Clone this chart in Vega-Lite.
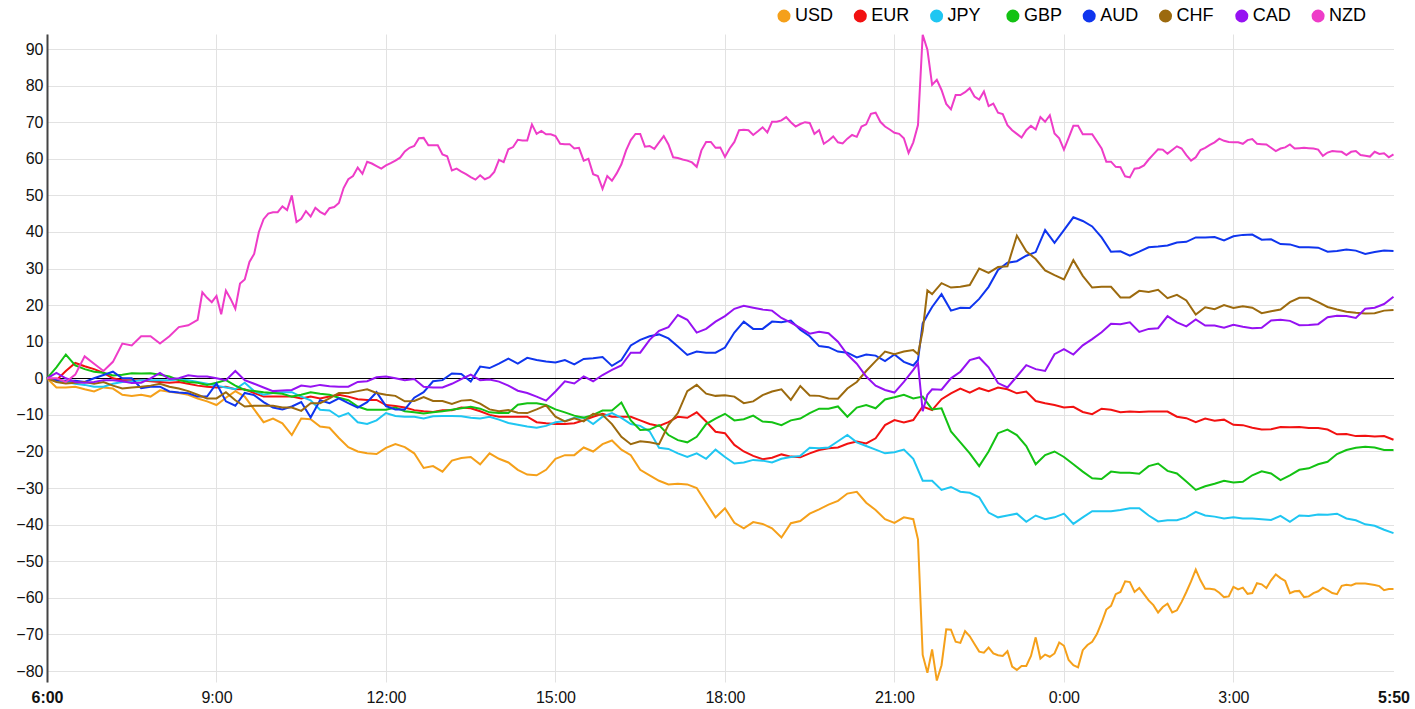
{
"$schema":"https://vega.github.io/schema/vega-lite/v6.json",
"width":1346.5,"height":648,
"autosize":{"type":"none"},
"padding":{"left":47,"top":34,"right":21.5,"bottom":27},
"background":"white",
"config":{"view":{"stroke":null},"font":"Liberation Sans"},
"data":{"format":{"parse":{"t":"date:'%d %H:%M'"}},"values":[
{"t":"01 06:00","USD":0,"EUR":0,"JPY":0,"GBP":0,"AUD":0,"CHF":0,"CAD":0,"NZD":0},
{"t":"01 06:10","USD":-2.5,"EUR":-0.5,"JPY":-0.8,"GBP":3,"AUD":-0.5,"CHF":-1,"CAD":1.5,"NZD":0},
{"t":"01 06:20","USD":-2.5,"EUR":2,"JPY":-1,"GBP":6.5,"AUD":-0.7,"CHF":-1.4,"CAD":0,"NZD":-1},
{"t":"01 06:30","USD":-2.3,"EUR":4.2,"JPY":-1.5,"GBP":3.5,"AUD":-0.7,"CHF":-1.2,"CAD":-1,"NZD":1},
{"t":"01 06:40","USD":-3,"EUR":3.3,"JPY":-1.8,"GBP":2.5,"AUD":-1,"CHF":-1,"CAD":-1.2,"NZD":6},
{"t":"01 06:50","USD":-3.6,"EUR":2.5,"JPY":-2.3,"GBP":1.8,"AUD":0,"CHF":-1.5,"CAD":-1,"NZD":4},
{"t":"01 07:00","USD":-2.5,"EUR":1.5,"JPY":-2.3,"GBP":1.5,"AUD":0.9,"CHF":-1,"CAD":-0.5,"NZD":2},
{"t":"01 07:10","USD":-2.8,"EUR":0,"JPY":-1.5,"GBP":0.8,"AUD":1.8,"CHF":-2,"CAD":-0.5,"NZD":4.5},
{"t":"01 07:20","USD":-4.5,"EUR":-0.5,"JPY":-1,"GBP":1,"AUD":0,"CHF":-2.8,"CAD":-0.8,"NZD":9.5},
{"t":"01 07:30","USD":-4.8,"EUR":-0.5,"JPY":-0.8,"GBP":1.4,"AUD":0,"CHF":-2.5,"CAD":-1.3,"NZD":9},
{"t":"01 07:40","USD":-4.5,"EUR":-0.5,"JPY":-0.5,"GBP":1.3,"AUD":-2.7,"CHF":-2.3,"CAD":-1.2,"NZD":11.5},
{"t":"01 07:50","USD":-5,"EUR":-0.8,"JPY":-0.5,"GBP":1.4,"AUD":-2.3,"CHF":-2,"CAD":0,"NZD":11.5},
{"t":"01 08:00","USD":-3.3,"EUR":-1,"JPY":-0.5,"GBP":1,"AUD":-2.3,"CHF":-1.5,"CAD":1.5,"NZD":9.5},
{"t":"01 08:10","USD":-3.7,"EUR":-1.2,"JPY":-0.5,"GBP":0.5,"AUD":-3.6,"CHF":-2.3,"CAD":-0.2,"NZD":11.5},
{"t":"01 08:20","USD":-4,"EUR":-1,"JPY":-0.3,"GBP":-0.5,"AUD":-3.9,"CHF":-2.8,"CAD":0,"NZD":14},
{"t":"01 08:30","USD":-4.5,"EUR":-1.5,"JPY":-0.5,"GBP":-1,"AUD":-4.1,"CHF":-3.5,"CAD":0.8,"NZD":14.5},
{"t":"01 08:40","USD":-5.5,"EUR":-2,"JPY":-1,"GBP":-1.2,"AUD":-5,"CHF":-4.5,"CAD":0.5,"NZD":16},
{"t":"01 08:45","NZD":23.5},
{"t":"01 08:50","USD":-6.3,"EUR":-2.3,"JPY":-1.5,"GBP":-1.8,"AUD":-5,"CHF":-5.5,"CAD":0.5,"NZD":22},
{"t":"01 08:55","NZD":20.8},
{"t":"01 09:00","USD":-7.3,"EUR":-2.5,"JPY":-2,"GBP":-1.2,"AUD":-1.4,"CHF":-5.5,"CAD":0,"NZD":22.5},
{"t":"01 09:05","NZD":17.5},
{"t":"01 09:10","USD":-5.3,"EUR":-2.3,"JPY":-2.5,"GBP":-0.5,"AUD":-6.3,"CHF":-3.8,"CAD":-0.5,"NZD":24},
{"t":"01 09:15","NZD":21.7},
{"t":"01 09:20","USD":-3.5,"EUR":-3,"JPY":-3,"GBP":-2,"AUD":-7.5,"CHF":-6,"CAD":2,"NZD":19},
{"t":"01 09:25","NZD":25.9},
{"t":"01 09:30","USD":-5,"EUR":-3,"JPY":-1.2,"GBP":-3.2,"AUD":-4,"CHF":-7.7,"CAD":-0.5,"NZD":27},
{"t":"01 09:35","NZD":31.8},
{"t":"01 09:40","USD":-8.5,"EUR":-4,"JPY":-3.5,"GBP":-3.5,"AUD":-4.6,"CHF":-7.5,"CAD":-1.5,"NZD":34},
{"t":"01 09:45","NZD":40},
{"t":"01 09:50","USD":-12,"EUR":-5,"JPY":-4.5,"GBP":-3.8,"AUD":-6.5,"CHF":-7.5,"CAD":-2.5,"NZD":43.5},
{"t":"01 09:55","NZD":45},
{"t":"01 10:00","USD":-11,"EUR":-5,"JPY":-4,"GBP":-4,"AUD":-8,"CHF":-7.5,"CAD":-3.5,"NZD":45.4},
{"t":"01 10:05","NZD":45.4},
{"t":"01 10:10","USD":-12.3,"EUR":-5,"JPY":-3.8,"GBP":-4.2,"AUD":-8.5,"CHF":-8,"CAD":-3.3,"NZD":47},
{"t":"01 10:15","NZD":46},
{"t":"01 10:20","USD":-15.5,"EUR":-5,"JPY":-3.8,"GBP":-5,"AUD":-7.7,"CHF":-8,"CAD":-3.2,"NZD":50},
{"t":"01 10:25","NZD":42.7},
{"t":"01 10:30","USD":-11,"EUR":-5.5,"JPY":-5,"GBP":-4.5,"AUD":-6.5,"CHF":-8.9,"CAD":-2,"NZD":43.6},
{"t":"01 10:35","NZD":45.7},
{"t":"01 10:40","USD":-11.2,"EUR":-5,"JPY":-6,"GBP":-3.8,"AUD":-10.7,"CHF":-6.8,"CAD":-2.3,"NZD":44.2},
{"t":"01 10:45","NZD":46.6},
{"t":"01 10:50","USD":-13.2,"EUR":-5.5,"JPY":-8.6,"GBP":-4.2,"AUD":-6,"CHF":-6.8,"CAD":-1.8,"NZD":45.5},
{"t":"01 10:55","NZD":44.8},
{"t":"01 11:00","USD":-13.5,"EUR":-5,"JPY":-8.8,"GBP":-4.5,"AUD":-6.8,"CHF":-5.5,"CAD":-2.2,"NZD":46.5},
{"t":"01 11:05","NZD":46.8},
{"t":"01 11:10","USD":-16.3,"EUR":-4.5,"JPY":-10.5,"GBP":-5.3,"AUD":-5.5,"CHF":-4,"CAD":-2.3,"NZD":47.9},
{"t":"01 11:15","NZD":52},
{"t":"01 11:20","USD":-18.8,"EUR":-5,"JPY":-9.5,"GBP":-6,"AUD":-6.8,"CHF":-4,"CAD":-2.3,"NZD":54.4},
{"t":"01 11:25","NZD":55.3},
{"t":"01 11:30","USD":-20,"EUR":-5.7,"JPY":-12,"GBP":-7.7,"AUD":-8,"CHF":-3.5,"CAD":-1,"NZD":57.6},
{"t":"01 11:35","NZD":55.9},
{"t":"01 11:40","USD":-20.5,"EUR":-5.9,"JPY":-12.5,"GBP":-8.6,"AUD":-6.5,"CHF":-3,"CAD":-0.8,"NZD":59.2},
{"t":"01 11:45","NZD":58.7},
{"t":"01 11:50","USD":-20.7,"EUR":-5.9,"JPY":-11.5,"GBP":-8.6,"AUD":-3.8,"CHF":-4,"CAD":0.3,"NZD":58},
{"t":"01 11:55","NZD":57.3},
{"t":"01 12:00","USD":-19,"EUR":-7.3,"JPY":-9.5,"GBP":-8.6,"AUD":-7.6,"CHF":-4.5,"CAD":0.5,"NZD":58.2},
{"t":"01 12:05","NZD":58.8},
{"t":"01 12:10","USD":-18,"EUR":-7.6,"JPY":-10.3,"GBP":-8,"AUD":-8.5,"CHF":-4.8,"CAD":0,"NZD":59.5},
{"t":"01 12:15","NZD":60.3},
{"t":"01 12:20","USD":-18.8,"EUR":-8,"JPY":-10.5,"GBP":-9,"AUD":-8.5,"CHF":-6.3,"CAD":-0.5,"NZD":62},
{"t":"01 12:25","NZD":63},
{"t":"01 12:30","USD":-20.5,"EUR":-8.7,"JPY":-10.5,"GBP":-9.3,"AUD":-5.3,"CHF":-6.2,"CAD":-0.2,"NZD":63.5},
{"t":"01 12:35","NZD":65.6},
{"t":"01 12:40","USD":-24.5,"EUR":-9,"JPY":-11,"GBP":-9.6,"AUD":-3.8,"CHF":-5.1,"CAD":-2.3,"NZD":65.7},
{"t":"01 12:45","NZD":63.7},
{"t":"01 12:50","USD":-24,"EUR":-9.2,"JPY":-10.4,"GBP":-9.3,"AUD":-0.8,"CHF":-6.2,"CAD":-2.5,"NZD":63.7},
{"t":"01 12:55","NZD":63.7},
{"t":"01 13:00","USD":-25.5,"EUR":-8.7,"JPY":-10.3,"GBP":-9,"AUD":-0.5,"CHF":-6.2,"CAD":-2.5,"NZD":61.2},
{"t":"01 13:05","NZD":60.7},
{"t":"01 13:10","USD":-22.5,"EUR":-8.7,"JPY":-10.3,"GBP":-8.6,"AUD":1.3,"CHF":-7,"CAD":-1.5,"NZD":56.8},
{"t":"01 13:15","NZD":57.3},
{"t":"01 13:20","USD":-21.8,"EUR":-8,"JPY":-10.4,"GBP":-8.2,"AUD":1.2,"CHF":-6.1,"CAD":-0.2,"NZD":56.5},
{"t":"01 13:25","NZD":55.8},
{"t":"01 13:30","USD":-21.5,"EUR":-8.2,"JPY":-10.8,"GBP":-7.8,"AUD":-0.9,"CHF":-5.9,"CAD":1,"NZD":55},
{"t":"01 13:35","NZD":54.3},
{"t":"01 13:40","USD":-23.5,"EUR":-9,"JPY":-11,"GBP":-8.3,"AUD":3.2,"CHF":-6.9,"CAD":-0.5,"NZD":55.5},
{"t":"01 13:45","NZD":54.4},
{"t":"01 13:50","USD":-20.5,"EUR":-10,"JPY":-10.5,"GBP":-9.3,"AUD":2.8,"CHF":-8.5,"CAD":-0.3,"NZD":55},
{"t":"01 13:55","NZD":56.4},
{"t":"01 14:00","USD":-22,"EUR":-10.5,"JPY":-11.3,"GBP":-9.5,"AUD":4,"CHF":-9,"CAD":-0.9,"NZD":59.7},
{"t":"01 14:05","NZD":59.1},
{"t":"01 14:10","USD":-23,"EUR":-10.5,"JPY":-12.2,"GBP":-9.5,"AUD":5.4,"CHF":-8.7,"CAD":-2,"NZD":62.6},
{"t":"01 14:15","NZD":63.2},
{"t":"01 14:20","USD":-25,"EUR":-10.5,"JPY":-12.7,"GBP":-7.2,"AUD":4,"CHF":-9.4,"CAD":-3.4,"NZD":65.2},
{"t":"01 14:25","NZD":65},
{"t":"01 14:30","USD":-26.3,"EUR":-10.5,"JPY":-13.2,"GBP":-6.8,"AUD":5.6,"CHF":-9.5,"CAD":-4,"NZD":65},
{"t":"01 14:35","NZD":69.4},
{"t":"01 14:40","USD":-26.5,"EUR":-12,"JPY":-13.5,"GBP":-6.8,"AUD":5,"CHF":-8.5,"CAD":-5,"NZD":66.8},
{"t":"01 14:45","NZD":67.6},
{"t":"01 14:50","USD":-25,"EUR":-12.3,"JPY":-13,"GBP":-7.3,"AUD":4.6,"CHF":-7.4,"CAD":-6.1,"NZD":66.7},
{"t":"01 14:55","NZD":66.7},
{"t":"01 15:00","USD":-22,"EUR":-12.5,"JPY":-12,"GBP":-8.5,"AUD":4.3,"CHF":-10.5,"CAD":-3.6,"NZD":66.2},
{"t":"01 15:05","NZD":64.1},
{"t":"01 15:10","USD":-21,"EUR":-12.5,"JPY":-11.7,"GBP":-9.3,"AUD":5,"CHF":-11.8,"CAD":-0.8,"NZD":64},
{"t":"01 15:15","NZD":64},
{"t":"01 15:20","USD":-21,"EUR":-12.3,"JPY":-10.8,"GBP":-10.2,"AUD":3.8,"CHF":-10.9,"CAD":-1.4,"NZD":62.8},
{"t":"01 15:25","NZD":63},
{"t":"01 15:30","USD":-18.9,"EUR":-11.5,"JPY":-10.7,"GBP":-10.8,"AUD":5.3,"CHF":-11.8,"CAD":0.5,"NZD":59.5},
{"t":"01 15:35","NZD":60},
{"t":"01 15:40","USD":-20,"EUR":-10.5,"JPY":-12.5,"GBP":-10,"AUD":5.5,"CHF":-9.7,"CAD":-0.8,"NZD":55.8},
{"t":"01 15:45","NZD":55.3},
{"t":"01 15:50","USD":-18,"EUR":-9.7,"JPY":-10.5,"GBP":-8.8,"AUD":5.8,"CHF":-10,"CAD":0.9,"NZD":51.8},
{"t":"01 15:55","NZD":55.3},
{"t":"01 16:00","USD":-17,"EUR":-10.5,"JPY":-9.5,"GBP":-8.8,"AUD":3.4,"CHF":-12.5,"CAD":2.3,"NZD":54},
{"t":"01 16:05","NZD":56},
{"t":"01 16:10","USD":-19.5,"EUR":-10.5,"JPY":-10.8,"GBP":-6.6,"AUD":5,"CHF":-16,"CAD":3.5,"NZD":58.5},
{"t":"01 16:15","NZD":62.3},
{"t":"01 16:20","USD":-21,"EUR":-10.5,"JPY":-12.5,"GBP":-11.5,"AUD":9,"CHF":-18,"CAD":7,"NZD":65.1},
{"t":"01 16:25","NZD":66.8},
{"t":"01 16:30","USD":-25,"EUR":-11.5,"JPY":-13,"GBP":-14.1,"AUD":10.5,"CHF":-17.2,"CAD":7,"NZD":66.8},
{"t":"01 16:35","NZD":63.3},
{"t":"01 16:40","USD":-26.5,"EUR":-12.5,"JPY":-14.5,"GBP":-14,"AUD":11.5,"CHF":-17.5,"CAD":10.5,"NZD":63.5},
{"t":"01 16:45","NZD":62.7},
{"t":"01 16:50","USD":-28,"EUR":-13,"JPY":-19,"GBP":-12.8,"AUD":12,"CHF":-18,"CAD":13,"NZD":64.5},
{"t":"01 16:55","NZD":66.2},
{"t":"01 17:00","USD":-29,"EUR":-12,"JPY":-19.3,"GBP":-15.5,"AUD":10.9,"CHF":-12.7,"CAD":14,"NZD":63.9},
{"t":"01 17:05","NZD":60.4},
{"t":"01 17:10","USD":-28.8,"EUR":-10.5,"JPY":-20.5,"GBP":-16.9,"AUD":8.7,"CHF":-9.5,"CAD":17.3,"NZD":60.2},
{"t":"01 17:15","NZD":59.8},
{"t":"01 17:20","USD":-29,"EUR":-10.8,"JPY":-21.5,"GBP":-17.5,"AUD":6.4,"CHF":-3.5,"CAD":16,"NZD":59.5},
{"t":"01 17:25","NZD":59},
{"t":"01 17:30","USD":-30,"EUR":-9.3,"JPY":-20.5,"GBP":-16,"AUD":7.3,"CHF":-1.8,"CAD":12.5,"NZD":57.8},
{"t":"01 17:35","NZD":62.3},
{"t":"01 17:40","USD":-34,"EUR":-11.8,"JPY":-22,"GBP":-12.5,"AUD":7,"CHF":-4.2,"CAD":13.5,"NZD":64.6},
{"t":"01 17:45","NZD":64.6},
{"t":"01 17:50","USD":-38,"EUR":-14.6,"JPY":-19.5,"GBP":-11,"AUD":7,"CHF":-4.8,"CAD":15.5,"NZD":63},
{"t":"01 17:55","NZD":63.1},
{"t":"01 18:00","USD":-35.5,"EUR":-15,"JPY":-21.5,"GBP":-9.7,"AUD":8.4,"CHF":-4.6,"CAD":17,"NZD":60.5},
{"t":"01 18:05","NZD":62.8},
{"t":"01 18:10","USD":-39.5,"EUR":-18.2,"JPY":-23.3,"GBP":-11.5,"AUD":12.5,"CHF":-5,"CAD":19,"NZD":64.6},
{"t":"01 18:15","NZD":67.8},
{"t":"01 18:20","USD":-41,"EUR":-20,"JPY":-23,"GBP":-11.2,"AUD":15.5,"CHF":-6.8,"CAD":19.8,"NZD":67.9},
{"t":"01 18:25","NZD":67.8},
{"t":"01 18:30","USD":-39.3,"EUR":-21.2,"JPY":-22.3,"GBP":-10.2,"AUD":13.5,"CHF":-6.3,"CAD":19.3,"NZD":66.5},
{"t":"01 18:35","NZD":67.5},
{"t":"01 18:40","USD":-39.8,"EUR":-22.1,"JPY":-22.5,"GBP":-11.8,"AUD":13.5,"CHF":-4.6,"CAD":18.8,"NZD":68.6},
{"t":"01 18:45","NZD":67.2},
{"t":"01 18:50","USD":-41,"EUR":-21.7,"JPY":-23,"GBP":-12,"AUD":15.5,"CHF":-3.6,"CAD":18.5,"NZD":70.1},
{"t":"01 18:55","NZD":70.1},
{"t":"01 19:00","USD":-43.5,"EUR":-20.8,"JPY":-22,"GBP":-12.8,"AUD":15.3,"CHF":-3,"CAD":16.5,"NZD":70.5},
{"t":"01 19:05","NZD":71.4},
{"t":"01 19:10","USD":-39.6,"EUR":-21.4,"JPY":-21.5,"GBP":-11.5,"AUD":15.8,"CHF":-5.9,"CAD":15.2,"NZD":70},
{"t":"01 19:15","NZD":68.8},
{"t":"01 19:20","USD":-39,"EUR":-21.6,"JPY":-21.2,"GBP":-11,"AUD":13.3,"CHF":-2.1,"CAD":13.8,"NZD":69.5},
{"t":"01 19:25","NZD":70},
{"t":"01 19:30","USD":-37,"EUR":-20.5,"JPY":-19,"GBP":-9.5,"AUD":11.5,"CHF":-4.7,"CAD":12.2,"NZD":69.8},
{"t":"01 19:35","NZD":66.8},
{"t":"01 19:40","USD":-35.8,"EUR":-19.6,"JPY":-19.1,"GBP":-8.3,"AUD":8.8,"CHF":-4.8,"CAD":12.7,"NZD":67.8},
{"t":"01 19:45","NZD":64.1},
{"t":"01 19:50","USD":-34.5,"EUR":-19.1,"JPY":-18.9,"GBP":-8.3,"AUD":8.5,"CHF":-5.5,"CAD":12.3,"NZD":65},
{"t":"01 19:55","NZD":66.1},
{"t":"01 20:00","USD":-33.5,"EUR":-18.9,"JPY":-17.2,"GBP":-7.7,"AUD":7.3,"CHF":-5.6,"CAD":10,"NZD":64.5},
{"t":"01 20:05","NZD":64.2},
{"t":"01 20:10","USD":-31.5,"EUR":-17.9,"JPY":-15.5,"GBP":-10.5,"AUD":7,"CHF":-2.8,"CAD":6.5,"NZD":65.5},
{"t":"01 20:15","NZD":66.5},
{"t":"01 20:20","USD":-31,"EUR":-17.3,"JPY":-17.5,"GBP":-8,"AUD":5.7,"CHF":-1,"CAD":4,"NZD":66},
{"t":"01 20:25","NZD":68.8},
{"t":"01 20:30","USD":-34,"EUR":-17.8,"JPY":-18.5,"GBP":-7.3,"AUD":6.5,"CHF":2,"CAD":0.5,"NZD":69.4},
{"t":"01 20:35","NZD":72.3},
{"t":"01 20:40","USD":-36,"EUR":-16.4,"JPY":-19.5,"GBP":-8.2,"AUD":6.2,"CHF":4.7,"CAD":-2,"NZD":72.6},
{"t":"01 20:45","NZD":70.1},
{"t":"01 20:50","USD":-38.5,"EUR":-12.8,"JPY":-20.5,"GBP":-5.8,"AUD":4.7,"CHF":7.3,"CAD":-3.2,"NZD":68.8},
{"t":"01 20:55","NZD":68},
{"t":"01 21:00","USD":-39.5,"EUR":-11.4,"JPY":-20.2,"GBP":-5.2,"AUD":6.5,"CHF":6.6,"CAD":-3.9,"NZD":67.1},
{"t":"01 21:05","NZD":66.8},
{"t":"01 21:10","USD":-38,"EUR":-12.1,"JPY":-19.5,"GBP":-4.5,"AUD":4.5,"CHF":7.3,"CAD":-1,"NZD":65.6},
{"t":"01 21:15","NZD":61.6},
{"t":"01 21:20","USD":-38.5,"EUR":-11.4,"JPY":-22,"GBP":-5.5,"AUD":3.5,"CHF":7.7,"CAD":2.3,"NZD":64.5},
{"t":"01 21:25","USD":-44,"AUD":5,"CHF":6.6,"CAD":4.1,"NZD":69.2},
{"t":"01 21:30","USD":-75.6,"EUR":-7.7,"JPY":-28,"GBP":-5,"AUD":15,"CHF":13,"CAD":-9,"NZD":93.9},
{"t":"01 21:35","USD":-80.5,"AUD":17.3,"CHF":24,"CAD":-4.5,"NZD":89.8},
{"t":"01 21:40","USD":-74.1,"EUR":-8.7,"JPY":-28,"GBP":-8.5,"AUD":19.5,"CHF":23,"CAD":-3,"NZD":80.2},
{"t":"01 21:45","USD":-82.6,"NZD":81.6},
{"t":"01 21:50","USD":-78.4,"EUR":-5.7,"JPY":-30.5,"GBP":-8.2,"AUD":23,"CHF":26,"CAD":-3.1,"NZD":78.8},
{"t":"01 21:55","USD":-68.6,"NZD":75},
{"t":"01 22:00","USD":-68.7,"EUR":-4.1,"JPY":-29.7,"GBP":-14.5,"AUD":18.5,"CHF":24.8,"CAD":0,"NZD":73.5},
{"t":"01 22:05","USD":-72,"NZD":77.4},
{"t":"01 22:10","USD":-72.3,"EUR":-2.8,"JPY":-31,"GBP":-17.5,"AUD":19.3,"CHF":25,"CAD":1.8,"NZD":77.4},
{"t":"01 22:15","USD":-69.1,"NZD":78.2},
{"t":"01 22:20","USD":-70.5,"EUR":-3.9,"JPY":-31.3,"GBP":-20.5,"AUD":19.2,"CHF":25.5,"CAD":5,"NZD":79.3},
{"t":"01 22:25","USD":-72.6,"NZD":77},
{"t":"01 22:30","USD":-74.7,"EUR":-2.7,"JPY":-32.5,"GBP":-24,"AUD":21.7,"CHF":30,"CAD":5.7,"NZD":76.2},
{"t":"01 22:35","USD":-75,"NZD":78.4},
{"t":"01 22:40","USD":-73.6,"EUR":-3.5,"JPY":-36.7,"GBP":-20,"AUD":25,"CHF":28.8,"CAD":3,"NZD":74.4},
{"t":"01 22:45","USD":-75.2,"NZD":75.1},
{"t":"01 22:50","USD":-75.7,"EUR":-2.5,"JPY":-38,"GBP":-15,"AUD":29.6,"CHF":30.4,"CAD":-1.3,"NZD":72.6},
{"t":"01 22:55","USD":-75.9,"NZD":72.2},
{"t":"01 23:00","USD":-74.6,"EUR":-3,"JPY":-37.5,"GBP":-14,"AUD":31.6,"CHF":30.6,"CAD":-2.5,"NZD":69.2},
{"t":"01 23:05","USD":-78.8,"NZD":67.8},
{"t":"01 23:10","USD":-79.7,"EUR":-4.1,"JPY":-37,"GBP":-15.5,"AUD":32,"CHF":39,"CAD":0.5,"NZD":66.8},
{"t":"01 23:15","USD":-78.6,"NZD":65.8},
{"t":"01 23:20","USD":-78.6,"EUR":-3.6,"JPY":-39.2,"GBP":-18.5,"AUD":33.5,"CHF":34.7,"CAD":3.6,"NZD":67.8},
{"t":"01 23:25","USD":-75.9,"NZD":69},
{"t":"01 23:30","USD":-70.8,"EUR":-6.2,"JPY":-37.5,"GBP":-23.5,"AUD":34.5,"CHF":32.6,"CAD":2.5,"NZD":68},
{"t":"01 23:35","USD":-76.6,"NZD":71.4},
{"t":"01 23:40","USD":-75.5,"EUR":-6.8,"JPY":-38.5,"GBP":-21,"AUD":40.5,"CHF":29.5,"CAD":2,"NZD":70.1},
{"t":"01 23:45","USD":-76.1,"NZD":71.9},
{"t":"01 23:50","USD":-75.2,"EUR":-7.3,"JPY":-38,"GBP":-20,"AUD":37,"CHF":28.2,"CAD":6.6,"NZD":66.9},
{"t":"01 23:55","USD":-72.2,"NZD":65.6},
{"t":"02 00:00","USD":-73.1,"EUR":-8,"JPY":-37,"GBP":-21.5,"AUD":40.5,"CHF":27,"CAD":8,"NZD":62.5},
{"t":"02 00:05","USD":-77,"NZD":65.7},
{"t":"02 00:10","USD":-78.4,"EUR":-7.8,"JPY":-39.8,"GBP":-23.5,"AUD":44,"CHF":32.3,"CAD":6.5,"NZD":69},
{"t":"02 00:15","USD":-79,"NZD":69},
{"t":"02 00:20","USD":-74.3,"EUR":-9.2,"JPY":-38,"GBP":-25.5,"AUD":43,"CHF":28,"CAD":9,"NZD":66.7},
{"t":"02 00:25","USD":-72.9,"NZD":66.7},
{"t":"02 00:30","USD":-72,"EUR":-9.8,"JPY":-36.3,"GBP":-27.3,"AUD":41.5,"CHF":24.8,"CAD":10.7,"NZD":66.7},
{"t":"02 00:35","USD":-69.9,"NZD":64.8},
{"t":"02 00:40","USD":-66.8,"EUR":-8.3,"JPY":-36.3,"GBP":-27.5,"AUD":38.5,"CHF":25,"CAD":12.6,"NZD":62.8},
{"t":"02 00:45","USD":-63.2,"NZD":59.2},
{"t":"02 00:50","USD":-62.2,"EUR":-8.6,"JPY":-36.3,"GBP":-25.5,"AUD":34.6,"CHF":25,"CAD":14.9,"NZD":59.2},
{"t":"02 00:55","USD":-59,"NZD":57.8},
{"t":"02 01:00","USD":-58.4,"EUR":-9.3,"JPY":-36,"GBP":-25.8,"AUD":34.7,"CHF":22.1,"CAD":14.8,"NZD":57.7},
{"t":"02 01:05","USD":-55.5,"NZD":55.2},
{"t":"02 01:10","USD":-55.7,"EUR":-9.1,"JPY":-35.5,"GBP":-25.8,"AUD":33.5,"CHF":22.1,"CAD":15.3,"NZD":54.9},
{"t":"02 01:15","USD":-58.4,"NZD":57.3},
{"t":"02 01:20","USD":-57.3,"EUR":-9.2,"JPY":-35.5,"GBP":-26.1,"AUD":34.6,"CHF":23.9,"CAD":12.7,"NZD":57.5},
{"t":"02 01:25","USD":-59,"NZD":58.2},
{"t":"02 01:30","USD":-60.7,"EUR":-9.1,"JPY":-37.5,"GBP":-24,"AUD":35.8,"CHF":23.6,"CAD":13.5,"NZD":59.8},
{"t":"02 01:35","USD":-62,"NZD":61.2},
{"t":"02 01:40","USD":-64,"EUR":-9.1,"JPY":-39.1,"GBP":-23.3,"AUD":36,"CHF":24.2,"CAD":13.7,"NZD":62.6},
{"t":"02 01:45","USD":-62.5,"NZD":62.5},
{"t":"02 01:50","USD":-61.6,"EUR":-9.1,"JPY":-38.8,"GBP":-25.3,"AUD":36.3,"CHF":21.9,"CAD":17,"NZD":61.4},
{"t":"02 01:55","USD":-64,"NZD":62.4},
{"t":"02 02:00","USD":-63.4,"EUR":-10.5,"JPY":-38.8,"GBP":-26,"AUD":37.1,"CHF":22.8,"CAD":15.3,"NZD":63.4},
{"t":"02 02:05","USD":-61.1,"NZD":62.8},
{"t":"02 02:10","USD":-58.4,"EUR":-10.9,"JPY":-38,"GBP":-28.2,"AUD":37.3,"CHF":21.3,"CAD":14.2,"NZD":61},
{"t":"02 02:15","USD":-55.5,"NZD":59.5},
{"t":"02 02:20","USD":-52.3,"EUR":-12,"JPY":-36.5,"GBP":-30.5,"AUD":38.5,"CHF":17.4,"CAD":16.1,"NZD":60.4},
{"t":"02 02:25","USD":-55.2,"NZD":62.4},
{"t":"02 02:30","USD":-57.5,"EUR":-11,"JPY":-37.5,"GBP":-29.5,"AUD":38.5,"CHF":19.4,"CAD":14.4,"NZD":63},
{"t":"02 02:35","USD":-57.5,"NZD":63.8},
{"t":"02 02:40","USD":-57.7,"EUR":-11.6,"JPY":-37.8,"GBP":-28.8,"AUD":38.6,"CHF":18.9,"CAD":14.4,"NZD":64.5},
{"t":"02 02:45","USD":-58.6,"NZD":65.5},
{"t":"02 02:50","USD":-59.8,"EUR":-11.3,"JPY":-38.3,"GBP":-28,"AUD":37.7,"CHF":20,"CAD":13.8,"NZD":64.9},
{"t":"02 02:55","USD":-59.6,"NZD":64.6},
{"t":"02 03:00","USD":-57,"EUR":-12.7,"JPY":-38,"GBP":-28.5,"AUD":38.8,"CHF":19.2,"CAD":14.6,"NZD":64.5},
{"t":"02 03:05","USD":-57.7,"NZD":64.5},
{"t":"02 03:10","USD":-57.2,"EUR":-12.8,"JPY":-38.3,"GBP":-28.3,"AUD":39.2,"CHF":19.7,"CAD":14.1,"NZD":64.1},
{"t":"02 03:15","USD":-58.9,"NZD":65.1},
{"t":"02 03:20","USD":-58.7,"EUR":-13.5,"JPY":-38.3,"GBP":-26.5,"AUD":39.3,"CHF":19.3,"CAD":13.7,"NZD":65.4},
{"t":"02 03:25","USD":-56,"NZD":64.1},
{"t":"02 03:30","USD":-56.3,"EUR":-14,"JPY":-38.5,"GBP":-25.4,"AUD":37.9,"CHF":17.8,"CAD":13.8,"NZD":64},
{"t":"02 03:35","USD":-57.3,"NZD":63.9},
{"t":"02 03:40","USD":-55.2,"EUR":-13.9,"JPY":-38.7,"GBP":-26,"AUD":38,"CHF":18.3,"CAD":15.8,"NZD":63},
{"t":"02 03:45","USD":-53.6,"NZD":62.1},
{"t":"02 03:50","USD":-54.6,"EUR":-13.3,"JPY":-37.6,"GBP":-27.8,"AUD":36.7,"CHF":18.8,"CAD":16,"NZD":62.8},
{"t":"02 03:55","USD":-55.4,"NZD":63.1},
{"t":"02 04:00","USD":-58.7,"EUR":-13.4,"JPY":-39.2,"GBP":-26.5,"AUD":36.6,"CHF":20.8,"CAD":15.7,"NZD":63.9},
{"t":"02 04:05","USD":-58.2,"NZD":62.8},
{"t":"02 04:10","USD":-58.1,"EUR":-13.3,"JPY":-37.5,"GBP":-25,"AUD":35.8,"CHF":22,"CAD":14.5,"NZD":62.9},
{"t":"02 04:15","USD":-59.8,"NZD":63},
{"t":"02 04:20","USD":-59.6,"EUR":-13.6,"JPY":-37.6,"GBP":-24.6,"AUD":35.8,"CHF":22,"CAD":14.6,"NZD":62.9},
{"t":"02 04:25","USD":-58.7,"NZD":62.8},
{"t":"02 04:30","USD":-58.2,"EUR":-13.6,"JPY":-37.2,"GBP":-23.5,"AUD":35.7,"CHF":20.8,"CAD":14.8,"NZD":62.5},
{"t":"02 04:35","USD":-57.2,"NZD":60.8},
{"t":"02 04:40","USD":-57.9,"EUR":-14,"JPY":-37.3,"GBP":-22.8,"AUD":34.6,"CHF":19.5,"CAD":16.7,"NZD":61.7},
{"t":"02 04:45","USD":-58.7,"NZD":62.1},
{"t":"02 04:50","USD":-59,"EUR":-15.3,"JPY":-37,"GBP":-20.7,"AUD":34.8,"CHF":18.8,"CAD":17.1,"NZD":62},
{"t":"02 04:55","USD":-56.7,"NZD":61.9},
{"t":"02 05:00","USD":-56.4,"EUR":-15.2,"JPY":-38.3,"GBP":-19.6,"AUD":35.2,"CHF":18.2,"CAD":17,"NZD":61},
{"t":"02 05:05","USD":-56.6,"NZD":61.9},
{"t":"02 05:10","USD":-56.1,"EUR":-15.8,"JPY":-38.8,"GBP":-19,"AUD":34.9,"CHF":17.9,"CAD":16.5,"NZD":62.1},
{"t":"02 05:15","USD":-56.1,"NZD":61},
{"t":"02 05:20","USD":-56.1,"EUR":-15.7,"JPY":-39.9,"GBP":-18.7,"AUD":34,"CHF":17.7,"CAD":19,"NZD":60.8},
{"t":"02 05:25","USD":-56.3,"NZD":60.6},
{"t":"02 05:30","USD":-56.5,"EUR":-15.9,"JPY":-40.3,"GBP":-18.9,"AUD":34.5,"CHF":17.8,"CAD":19.3,"NZD":61.9},
{"t":"02 05:35","USD":-56.8,"NZD":61.3},
{"t":"02 05:40","USD":-57.9,"EUR":-15.8,"JPY":-41.4,"GBP":-19.6,"AUD":34.9,"CHF":18.5,"CAD":20.3,"NZD":61.5},
{"t":"02 05:45","USD":-57.6,"NZD":60.4},
{"t":"02 05:50","USD":-57.6,"EUR":-16.8,"JPY":-42.3,"GBP":-19.6,"AUD":34.8,"CHF":18.7,"CAD":22.3,"NZD":61.2}
]},
"transform":[{"fold":["USD","EUR","JPY","GBP","AUD","CHF","CAD","NZD"],"as":["currency","value"]},{"filter":"isValid(datum.value)"}],
"mark":{"type":"line","strokeWidth":2,"interpolate":"linear"},
"encoding":{
 "x":{"field":"t","type":"temporal",
  "scale":{"domain":[{"year":1900,"month":1,"date":1,"hours":6},{"year":1900,"month":1,"date":2,"hours":5,"minutes":50}],"nice":false},
  "axis":{"title":null,"values":[{"year":1900,"month":1,"date":1,"hours":6},{"year":1900,"month":1,"date":1,"hours":9},{"year":1900,"month":1,"date":1,"hours":12},{"year":1900,"month":1,"date":1,"hours":15},{"year":1900,"month":1,"date":1,"hours":18},{"year":1900,"month":1,"date":1,"hours":21},{"year":1900,"month":1,"date":2,"hours":0},{"year":1900,"month":1,"date":2,"hours":3},{"year":1900,"month":1,"date":2,"hours":5,"minutes":50}],
   "format":"%-H:%M","domain":false,"ticks":false,"labelFontSize":16,"labelPadding":7,"labelColor":"#111","labelFlush":false,"labelOverlap":false,
   "labelFontWeight":{"condition":{"test":"datum.index === 0 || datum.index === 1","value":"bold"},"value":"normal"},
   "gridColor":{"condition":{"test":"datum.index === 1","value":"transparent"},"value":"#e2e2e2"},"gridWidth":1}},
 "y":{"field":"value","type":"quantitative",
  "scale":{"domain":[-83,94.1],"nice":false,"zero":false},
  "axis":{"title":null,"values":[-80,-70,-60,-50,-40,-30,-20,-10,0,10,20,30,40,50,60,70,80,90],"domain":true,"domainColor":"#444","domainWidth":2,"ticks":false,"labelFontSize":16,"labelPadding":4,"labelColor":"#111","labelOverlap":false,
   "gridColor":{"condition":{"test":"datum.value === 0","value":"#000"},"value":"#e2e2e2"},"gridWidth":1}},
 "color":{"field":"currency","type":"nominal",
  "scale":{"domain":["USD","EUR","JPY","GBP","AUD","CHF","CAD","NZD"],"range":["#F5A01A","#F21111","#1FC6F2","#13C213","#0F35EE","#9C6A0E","#9612F2","#EE3CC8"]},
  "legend":{"title":null,"orient":"none","legendX":728,"legendY":-27,"direction":"horizontal","columns":8,"symbolType":"circle","symbolSize":170,"symbolStrokeWidth":0,"labelFontSize":18,"labelColor":"#000","labelOffset":2,"columnPadding":17.3,"gridAlign":"all",
   "encode":{"symbols":{"update":{"fill":{"scale":"color","field":"value"},"stroke":{"value":"transparent"},"opacity":{"value":1}}}}}}
}
}
